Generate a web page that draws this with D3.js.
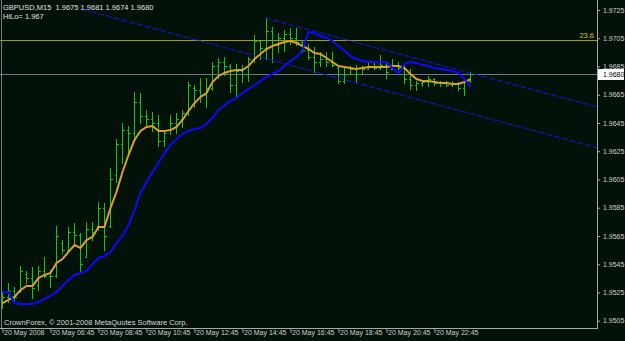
<!DOCTYPE html>
<html>
<head>
<meta charset="utf-8">
<script src="https://cdn.jsdelivr.net/npm/d3@7"></script>
<style>
    html, body { margin: 0; padding: 0; background: #031208; }
    svg { display: block; font-family: "Liberation Sans", Arial, sans-serif; }
</style>
</head>
<body>
<div id="chart"></div>
<script>
"use strict";

var symbolLabel = "GBPUSD,M15",
    hiloLabel = "HiLo= 1.967",
    copyright = "CrownForex, \u00a9 2001-2008 MetaQuotes Software Corp.";

// time axis: one label every 8 bars (2 hours of M15)
var timeTickBars = [0, 8, 16, 24, 32, 40, 48, 56, 64, 72];
var timeLabels = ["20 May 2008", "20 May 06:45", "20 May 08:45", "20 May 10:45", "20 May 12:45",
    "20 May 14:45", "20 May 16:45", "20 May 18:45", "20 May 20:45", "20 May 22:45"];

var priceTicks = [1.9505, 1.9525, 1.9545, 1.9565, 1.9585, 1.9605, 1.9625, 1.9645, 1.9665, 1.9685, 1.9705, 1.9725];

var open = [1.9518, 1.9522, 1.9526, 1.9526, 1.9538, 1.9535, 1.9530, 1.9540, 1.9537, 1.9537,
    1.9560, 1.9555, 1.9568, 1.9566, 1.9550, 1.9570, 1.9572, 1.9585, 1.9572, 1.9608,
    1.9630, 1.9640, 1.9638, 1.9660, 1.9650, 1.9648, 1.9645, 1.9632, 1.9640, 1.9645,
    1.9648, 1.9652, 1.9670, 1.9668, 1.9665, 1.9670, 1.9685, 1.9688, 1.9685, 1.9672,
    1.9682, 1.9680, 1.9690, 1.9703, 1.9698, 1.9710, 1.9700, 1.9705, 1.9708, 1.9705,
    1.9702, 1.9697, 1.9692, 1.9688, 1.9690, 1.9688, 1.9684, 1.9675, 1.9680, 1.9683,
    1.9680, 1.9683, 1.9685, 1.9684, 1.9686, 1.9683, 1.9686, 1.9684, 1.9676, 1.9672,
    1.9673, 1.9674, 1.9676, 1.9673, 1.9674, 1.9672, 1.9673, 1.9670, 1.9675];
var high = [1.9525, 1.9532, 1.9529, 1.9544, 1.9540, 1.9543, 1.9544, 1.9550, 1.9541, 1.9572,
    1.9562, 1.9571, 1.9574, 1.9567, 1.9575, 1.9575, 1.9589, 1.9588, 1.9613, 1.9634,
    1.9645, 1.9643, 1.9667, 1.9666, 1.9654, 1.9653, 1.9651, 1.9640, 1.9651, 1.9652,
    1.9654, 1.9674, 1.9672, 1.9677, 1.9677, 1.9688, 1.9691, 1.9692, 1.9687, 1.9687,
    1.9686, 1.9692, 1.9707, 1.9704, 1.9719, 1.9713, 1.9709, 1.9711, 1.9712, 1.9712,
    1.9704, 1.9701, 1.9699, 1.9695, 1.9695, 1.9695, 1.9685, 1.9684, 1.9685, 1.9686,
    1.9685, 1.9688, 1.9688, 1.9693, 1.9688, 1.9690, 1.9688, 1.9686, 1.9683, 1.9675,
    1.9675, 1.9678, 1.9677, 1.9675, 1.9675, 1.9675, 1.9674, 1.9675, 1.9681];
var low = [1.9514, 1.9518, 1.9518, 1.9525, 1.9532, 1.9521, 1.9527, 1.9536, 1.9529, 1.9536,
    1.9553, 1.9554, 1.9560, 1.9540, 1.9550, 1.9562, 1.9569, 1.9555, 1.9571, 1.9603,
    1.9617, 1.9624, 1.9635, 1.9645, 1.9642, 1.9639, 1.9629, 1.9629, 1.9637, 1.9638,
    1.9642, 1.9651, 1.9656, 1.9660, 1.9656, 1.9668, 1.9677, 1.9679, 1.9667, 1.9663,
    1.9674, 1.9675, 1.9688, 1.9690, 1.9690, 1.9688, 1.9695, 1.9696, 1.9701, 1.9700,
    1.9695, 1.9690, 1.9681, 1.9685, 1.9685, 1.9685, 1.9673, 1.9673, 1.9680, 1.9674,
    1.9680, 1.9683, 1.9683, 1.9683, 1.9677, 1.9683, 1.9683, 1.9673, 1.9669, 1.9668,
    1.9671, 1.9671, 1.9672, 1.9671, 1.9671, 1.9671, 1.9668, 1.9665, 1.9674];
var close = [1.9522, 1.9526, 1.9522, 1.9540, 1.9535, 1.9528, 1.9540, 1.9537, 1.9537, 1.9565,
    1.9555, 1.9568, 1.9566, 1.9545, 1.9570, 1.9568, 1.9585, 1.9565, 1.9605, 1.9630,
    1.9640, 1.9638, 1.9660, 1.9650, 1.9648, 1.9645, 1.9632, 1.9638, 1.9645, 1.9648,
    1.9652, 1.9672, 1.9668, 1.9665, 1.9670, 1.9685, 1.9688, 1.9685, 1.9672, 1.9682,
    1.9680, 1.9690, 1.9703, 1.9698, 1.9710, 1.9700, 1.9705, 1.9708, 1.9705, 1.9702,
    1.9697, 1.9692, 1.9688, 1.9690, 1.9688, 1.9686, 1.9675, 1.9680, 1.9683, 1.9680,
    1.9683, 1.9685, 1.9684, 1.9686, 1.9681, 1.9686, 1.9684, 1.9676, 1.9672, 1.9673,
    1.9674, 1.9676, 1.9673, 1.9674, 1.9672, 1.9673, 1.9670, 1.9675, 1.9680];

// orange (fast) and blue (slow) indicator lines
var maFast = [1.95175, 1.95197, 1.95218, 1.95267, 1.95296, 1.95296, 1.95352, 1.95374, 1.95388, 1.95459,
    1.95487, 1.95537, 1.95586, 1.95565, 1.95621, 1.95643, 1.95714, 1.95714, 1.95848, 1.95962,
    1.96103, 1.96223, 1.96329, 1.96393, 1.96422, 1.96429, 1.96393, 1.96393, 1.96400, 1.96422,
    1.96471, 1.96535, 1.96591, 1.96634, 1.96662, 1.96740, 1.96783, 1.96804, 1.96818, 1.96825,
    1.96825, 1.96853, 1.96903, 1.96938, 1.96974, 1.96995, 1.97009, 1.97023, 1.97030, 1.97016,
    1.96995, 1.96974, 1.96945, 1.96938, 1.96910, 1.96882, 1.96853, 1.96846, 1.96839, 1.96832,
    1.96839, 1.96846, 1.96846, 1.96846, 1.96846, 1.96853, 1.96853, 1.96839, 1.96797, 1.96761,
    1.96747, 1.96747, 1.96740, 1.96733, 1.96733, 1.96726, 1.96726, 1.96740, 1.96761];
var maSlow = [1.95253, 1.95253, 1.95175, 1.95168, 1.95168, 1.95168, 1.95182, 1.95204, 1.95225, 1.95253,
    1.95296, 1.95338, 1.95374, 1.95388, 1.95402, 1.95452, 1.95494, 1.95508, 1.95537, 1.95600,
    1.95650, 1.95728, 1.95834, 1.95954, 1.96032, 1.96103, 1.96167, 1.96237, 1.96294, 1.96337,
    1.96372, 1.96393, 1.96407, 1.96414, 1.96443, 1.96485, 1.96542, 1.96577, 1.96606, 1.96627,
    1.96662, 1.96691, 1.96719, 1.96747, 1.96776, 1.96797, 1.96818, 1.96853, 1.96889, 1.96917,
    1.96967, 1.97094, 1.97087, 1.97066, 1.97052, 1.97030, 1.96995, 1.96959, 1.96924, 1.96903,
    1.96889, 1.96882, 1.96882, 1.96882, 1.96882, 1.96839, 1.96804, 1.96867, 1.96882, 1.96875,
    1.96860, 1.96853, 1.96839, 1.96832, 1.96825, 1.96818, 1.96804, 1.96761, 1.96705];

// channel trend lines as [bar, price] anchors
var trendUpper = [[43.8, 1.97193], [99.05, 1.96564]];
var trendLower = [[13.4, 1.97254], [99.05, 1.96276]];

var fibPrice = 1.97038, fibLabel = "23.6";
var bidPrice = 1.9680;

(function () {
    var width = 625,
        height = 341,
        plotRight = 597,
        plotBottom = 328;

    var n = close.length;

    var x = d3.scaleLinear().domain([0, 99]).range([2.5, 596.5]);
    var y = d3.scaleLinear().domain([1.9505, 1.9725]).range([320.7, 10]);

    var svg = d3.select("#chart").append("svg")
        .attr("width", width)
        .attr("height", height);

    svg.append("rect")
        .attr("width", width)
        .attr("height", height)
        .attr("fill", "#031208");

    svg.append("defs").append("clipPath")
        .attr("id", "plot")
        .append("rect")
        .attr("x", 0).attr("y", 0)
        .attr("width", plotRight).attr("height", plotBottom);

    var plot = svg.append("g").attr("clip-path", "url(#plot)");

    // fibo level
    plot.append("line")
        .attr("x1", 0).attr("x2", plotRight)
        .attr("y1", Math.round(y(fibPrice)) + 0.5)
        .attr("y2", Math.round(y(fibPrice)) + 0.5)
        .attr("stroke", "#a89a10")
        .attr("stroke-width", 1);

    // bid line
    plot.append("line")
        .attr("x1", 0).attr("x2", plotRight)
        .attr("y1", Math.round(y(bidPrice)) + 0.5)
        .attr("y2", Math.round(y(bidPrice)) + 0.5)
        .attr("stroke", "#75757f")
        .attr("stroke-width", 1);

    // bars
    var bars = plot.append("g")
        .attr("stroke", "#18c018")
        .attr("shape-rendering", "crispEdges");

    d3.range(n).forEach(function (i) {
        var cx = Math.round(x(i) - 0.5) + 0.5;
        bars.append("line")
            .attr("x1", cx).attr("x2", cx)
            .attr("y1", Math.round(y(high[i])))
            .attr("y2", Math.round(y(low[i])) + 1);
        bars.append("line")
            .attr("x1", cx - 2).attr("x2", cx)
            .attr("y1", Math.round(y(open[i])) + 0.5)
            .attr("y2", Math.round(y(open[i])) + 0.5);
        bars.append("line")
            .attr("x1", cx).attr("x2", cx + 2)
            .attr("y1", Math.round(y(close[i])) + 0.5)
            .attr("y2", Math.round(y(close[i])) + 0.5);
    });

    // trend lines
    [trendUpper, trendLower].forEach(function (t) {
        plot.append("line")
            .attr("x1", x(t[0][0])).attr("y1", y(t[0][1]))
            .attr("x2", x(t[1][0])).attr("y2", y(t[1][1]))
            .attr("stroke", "#1414e6")
            .attr("stroke-width", 1)
            .attr("stroke-dasharray", "6,2");
    });

    var line = d3.line()
        .x(function (d, i) { return x(i); })
        .y(function (d) { return y(d); });

    plot.append("path")
        .datum(maFast)
        .attr("d", line)
        .attr("fill", "none")
        .attr("stroke", "#dc9f2a")
        .attr("stroke-width", 2);

    plot.append("path")
        .datum(maSlow)
        .attr("d", line)
        .attr("fill", "none")
        .attr("stroke", "#0a0aff")
        .attr("stroke-width", 2);

    // fibo label
    svg.append("text")
        .attr("x", plotRight - 3)
        .attr("y", y(fibPrice) - 2)
        .attr("text-anchor", "end")
        .attr("fill", "#d8c820")
        .attr("font-size", "7.5px")
        .text(fibLabel);

    // frame
    var frame = svg.append("g")
        .attr("stroke", "#a8a8a8")
        .attr("shape-rendering", "crispEdges");
    frame.append("line").attr("x1", 1.5).attr("x2", 1.5).attr("y1", 0).attr("y2", plotBottom)
        .attr("stroke", "#7c7c7c");
    frame.append("line").attr("x1", plotRight + 0.5).attr("x2", plotRight + 0.5).attr("y1", 0).attr("y2", plotBottom + 1);
    frame.append("line").attr("x1", 0).attr("x2", plotRight + 1).attr("y1", plotBottom + 0.5).attr("y2", plotBottom + 0.5);

    // price axis
    var yAxis = d3.axisRight(y)
        .tickValues(priceTicks)
        .tickFormat(d3.format(".4f"))
        .tickSize(2)
        .tickPadding(3);

    var gy = svg.append("g")
        .attr("transform", "translate(" + (plotRight + 1) + ",0)")
        .call(yAxis);
    gy.select(".domain").remove();
    gy.selectAll("line").attr("stroke", "#a8a8a8");
    gy.selectAll("text")
        .attr("fill", "#d0d0d0")
        .attr("font-size", "7px")
        .attr("font-family", "Liberation Sans, Arial, sans-serif");

    // bid price box
    var bidY = Math.round(y(bidPrice));
    svg.append("rect")
        .attr("x", plotRight + 1).attr("y", bidY - 5)
        .attr("width", width - plotRight - 2).attr("height", 11)
        .attr("fill", "#ffffff");
    svg.append("text")
        .attr("x", plotRight + 6).attr("y", bidY + 3)
        .attr("fill", "#000000")
        .attr("font-size", "7px")
        .text(d3.format(".4f")(bidPrice));

    // time axis
    var xAxis = d3.axisBottom(x)
        .tickValues(timeTickBars)
        .tickFormat(function (d, i) { return timeLabels[i]; })
        .tickSize(4);

    var gx = svg.append("g")
        .attr("transform", "translate(0," + (plotBottom + 1) + ")")
        .call(xAxis);
    gx.select(".domain").remove();
    gx.selectAll("line").attr("stroke", "#a8a8a8");
    gx.selectAll("text")
        .attr("fill", "#d0d0d0")
        .attr("font-size", "7px")
        .attr("font-family", "Liberation Sans, Arial, sans-serif")
        .attr("text-anchor", "start")
        .attr("dx", 1)
        .attr("y", 1);

    // header and footer texts
    var last = n - 1;
    var fmt = d3.format(".4f");
    svg.append("text")
        .attr("x", 3).attr("y", 10)
        .attr("fill", "#e0e0e0")
        .attr("font-size", "7.5px")
        .attr("xml:space", "preserve")
        .text(symbolLabel + "  " + fmt(open[last]) + " " + fmt(high[last]) + " " + fmt(low[last]) + " " + fmt(close[last]));
    svg.append("text")
        .attr("x", 3).attr("y", 19)
        .attr("fill", "#e0e0e0")
        .attr("font-size", "7.5px")
        .text(hiloLabel);
    svg.append("text")
        .attr("x", 4).attr("y", 325)
        .attr("fill", "#d8d8d8")
        .attr("font-size", "7.5px")
        .text(copyright);
})();
</script>
</body>
</html>
